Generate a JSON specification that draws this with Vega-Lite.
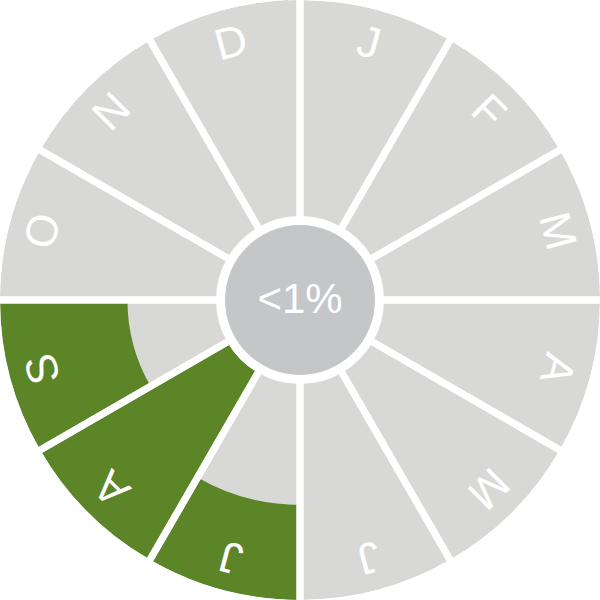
{
  "$schema": "https://vega.github.io/schema/vega-lite/v6.json",
  "autosize": {"type": "fit", "contains": "padding"},
  "width": 600,
  "height": 600,
  "padding": 0,
  "background": "white",
  "config": {"view": {"stroke": null}},
  "data": {
    "values": [
      {"idx": 0, "m": "J", "pct": 0},
      {"idx": 1, "m": "F", "pct": 0},
      {"idx": 2, "m": "M", "pct": 0},
      {"idx": 3, "m": "A", "pct": 0},
      {"idx": 4, "m": "M", "pct": 0},
      {"idx": 5, "m": "J", "pct": 0},
      {"idx": 6, "m": "J", "pct": 44},
      {"idx": 7, "m": "A", "pct": 100},
      {"idx": 8, "m": "S", "pct": 59},
      {"idx": 9, "m": "O", "pct": 0},
      {"idx": 10, "m": "N", "pct": 0},
      {"idx": 11, "m": "D", "pct": 0}
    ]
  },
  "layer": [
    {
      "mark": {"type": "arc", "radius": 300, "radius2": 80, "color": "#d8d9d7"},
      "encoding": {
        "theta": {"aggregate": "count", "type": "quantitative", "stack": true, "scale": {"domain": [0, 12]}},
        "detail": {"field": "idx", "type": "quantitative"},
        "order": {"field": "idx", "type": "quantitative"}
      }
    },
    {
      "transform": [
        {"aggregate": [{"op": "count", "as": "n"}], "groupby": ["idx", "pct"]},
        {"stack": "n", "groupby": [], "sort": [{"field": "idx", "order": "ascending"}], "as": ["t0", "t1"]}
      ],
      "mark": {"type": "arc", "radius2": 300, "color": "#5b8527"},
      "encoding": {
        "theta": {"field": "t0", "type": "quantitative"},
        "theta2": {"field": "t1"},
        "radius": {"field": "pct", "type": "quantitative", "scale": {"type": "linear", "domain": [0, 100], "range": [300, 84]}}
      }
    },
    {
      "mark": {"type": "arc", "radius": 303.5, "radius2": 80.5, "fillOpacity": 0, "stroke": "white", "strokeWidth": 7},
      "encoding": {
        "theta": {"aggregate": "count", "type": "quantitative", "stack": true},
        "detail": {"field": "idx", "type": "quantitative"},
        "order": {"field": "idx", "type": "quantitative"}
      }
    },
    {
      "mark": {"type": "text", "radius": 265, "fontSize": 44, "font": "Liberation Sans", "color": "white", "align": "center", "baseline": "middle"},
      "encoding": {
        "theta": {"aggregate": "count", "type": "quantitative", "stack": true},
        "detail": {"field": "idx", "type": "quantitative"},
        "order": {"field": "idx", "type": "quantitative"},
        "text": {"field": "m", "type": "nominal"},
        "angle": {"field": "idx", "type": "quantitative", "scale": {"domain": [-0.5, 11.5], "range": [0, 360]}}
      }
    },
    {
      "data": {"values": [{"label": "<1%"}]},
      "layer": [
        {
          "mark": {"type": "arc", "radius": 75, "color": "#c5c6c8"},
          "encoding": {}
        },
        {
          "mark": {"type": "text", "fontSize": 42, "font": "Liberation Sans", "color": "white", "align": "center", "baseline": "middle"},
          "encoding": {"text": {"field": "label", "type": "nominal"}}
        }
      ]
    }
  ]
}
